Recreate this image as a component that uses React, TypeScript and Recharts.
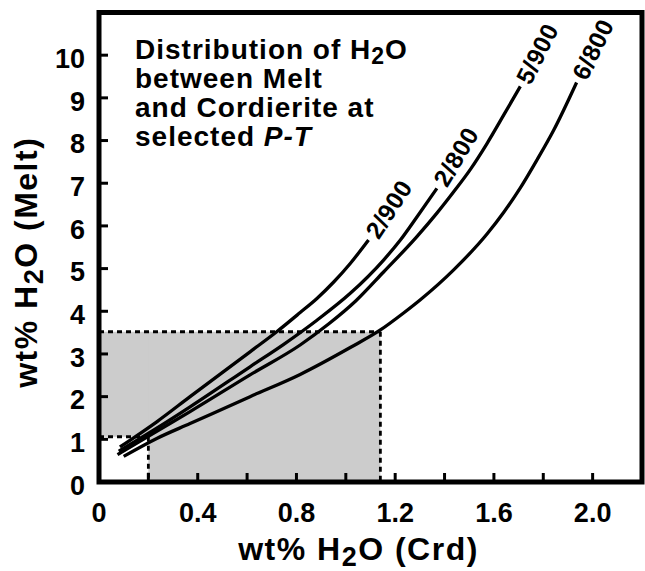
import React from 'react';
import { LineChart, Line, XAxis, YAxis, ReferenceArea, ReferenceLine, Label, LabelList } from 'recharts';

// ---- data (wt% H2O in cordierite vs wt% H2O in melt) ----
const crd2_900 = [0.085, 0.234, 0.369, 0.612, 0.72, 0.815, 0.883, 0.95, 1.018, 1.092];
const melt2_900 = [0.82, 1.41, 2.0, 3.05, 3.52, 3.97, 4.3, 4.68, 5.12, 5.67];

const crd2_800 = [0.08, 0.234, 0.369, 0.612, 0.747, 0.883, 1.018, 1.153, 1.221, 1.288, 1.369];
const melt2_800 = [0.72, 1.26, 1.76, 2.7, 3.22, 3.79, 4.42, 5.2, 5.67, 6.21, 6.88];

const crd5_900 = [0.075, 0.234, 0.369, 0.612, 0.815, 0.93, 1.04, 1.153, 1.288, 1.369, 1.437, 1.504, 1.572, 1.64, 1.707];
const melt5_900 = [0.64, 1.19, 1.65, 2.51, 3.21, 3.7, 4.24, 4.92, 5.75, 6.3, 6.8, 7.32, 7.93, 8.6, 9.27];

const crd6_800 = [0.1, 0.234, 0.369, 0.612, 0.815, 1.018, 1.137, 1.234, 1.302, 1.437, 1.572, 1.64, 1.707, 1.775, 1.842, 1.935];
const melt6_800 = [0.6, 1.02, 1.37, 2.0, 2.52, 3.15, 3.55, 3.96, 4.27, 4.97, 5.81, 6.32, 6.89, 7.55, 8.24, 9.36];

const seriesNames = ['2/900', '2/800', '5/900', '6/800'];

// shaded field
const shadeCrdMax = 1.14;
const shadeMeltMax = 3.52;
const notchCrd = 0.2;
const notchMelt = 1.06;

// axes
const xDomain = [0, 2.2];
const yDomain = [0, 11];
const xTicks = [0, 0.2, 0.4, 0.6, 0.8, 1.0, 1.2, 1.4, 1.6, 1.8, 2.0];
const xTickLabels = ['0', '', '0.4', '', '0.8', '', '1.2', '', '1.6', '', '2.0'];
const yTicks = [0, 1, 2, 3, 4, 5, 6, 7, 8, 9, 10];
const yTickLabels = ['0', '1', '2', '3', '4', '5', '6', '7', '8', '9', '10'];

const FONT = '"Liberation Sans", Arial, Helvetica, sans-serif';

const toPoints = (xs: number[], ys: number[]) => xs.map((x, i) => ({ crd: x, melt: ys[i] }));

const series = [
  { name: seriesNames[0], data: toPoints(crd2_900, melt2_900), angle: 57 },
  { name: seriesNames[1], data: toPoints(crd2_800, melt2_800), angle: 59 },
  { name: seriesNames[2], data: toPoints(crd5_900, melt5_900), angle: 63 },
  { name: seriesNames[3], data: toPoints(crd6_800, melt6_800), angle: 64 },
];

function XTick(props: any) {
  const { x, y, index } = props;
  const label = xTickLabels[index];
  if (!label) return null;
  return (
    <text x={x} y={y} dy="0.72em" textAnchor="middle" fontFamily={FONT} fontWeight="bold" fontSize={27} fill="#000">
      {label}
    </text>
  );
}

function YTick(props: any) {
  const { x, y, index } = props;
  return (
    <text x={x} y={y + 3} dy="0.36em" textAnchor="end" fontFamily={FONT} fontWeight="bold" fontSize={27} fill="#000">
      {yTickLabels[index]}
    </text>
  );
}

const makeEndLabel = (text: string, angle: number, last: number) => (props: any) => {
  const { x, y, index } = props;
  if (index !== last) return null;
  const rad = (angle * Math.PI) / 180;
  const sx = x + 5 * Math.cos(rad);
  const sy = y - 5 * Math.sin(rad);
  return (
    <text
      x={sx}
      y={sy}
      dy="0.36em"
      transform={`rotate(${-angle} ${sx} ${sy})`}
      fontFamily={FONT}
      fontWeight="bold"
      fontSize={24.5}
      letterSpacing={0.5}
      fill="#000"
    >
      {text}
    </text>
  );
};

const XTitle = (props: any) => {
  const vb = props.viewBox;
  const cx = vb.x + vb.width / 2 - 12;
  const by = vb.y + 78;
  return (
    <text x={cx} y={by} textAnchor="middle" fontFamily={FONT} fontWeight="bold" fontSize={32} letterSpacing={1.5} fill="#000">
      <tspan>wt% H</tspan>
      <tspan dy={6} fontSize={27}>2</tspan>
      <tspan dy={-6}>O (Crd)</tspan>
    </text>
  );
};

const YTitle = (props: any) => {
  const vb = props.viewBox;
  const tx = vb.x + 37;
  const ty = vb.y + vb.height / 2 + 15;
  return (
    <text
      x={tx}
      y={ty}
      textAnchor="middle"
      transform={`rotate(-90 ${tx} ${ty})`}
      fontFamily={FONT}
      fontWeight="bold"
      fontSize={32}
      letterSpacing={1.5}
      fill="#000"
    >
      <tspan>wt% H</tspan>
      <tspan dy={6} fontSize={27}>2</tspan>
      <tspan dy={-6}>O (Melt)</tspan>
    </text>
  );
};

const Annotation = (props: any) => {
  const vb = props.viewBox;
  const lx = vb.x + 36;
  const ly = vb.y + 46;
  const lh = 29.3;
  const common = { fontFamily: FONT, fontWeight: 'bold' as const, fontSize: 28, letterSpacing: 1, fill: '#000' };
  return (
    <g>
      <text x={lx} y={ly} {...common}>
        <tspan>Distribution of H</tspan>
        <tspan dy={5} fontSize={23}>2</tspan>
        <tspan dy={-5}>O</tspan>
      </text>
      <text x={lx} y={ly + lh} {...common}>between Melt</text>
      <text x={lx} y={ly + 2 * lh} {...common}>and Cordierite at</text>
      <text x={lx} y={ly + 3 * lh} {...common}>
        <tspan>selected </tspan>
        <tspan fontStyle="italic">P-T</tspan>
      </text>
    </g>
  );
};

const dash = { stroke: '#000', strokeWidth: 2.8, strokeDasharray: '5 4' };

export default function App() {
  return (
    <div style={{ position: 'absolute', left: 0, top: 0, width: 645, height: 571, background: '#fff' }}>
      <LineChart width={645} height={571} margin={{ top: 12.5, right: 3, bottom: 0, left: 0 }}>
        <XAxis
          dataKey="crd"
          type="number"
          domain={xDomain}
          ticks={xTicks}
          interval={0}
          axisLine={false}
          tickLine={{ stroke: '#000', strokeWidth: 3 }}
          tickSize={-9}
          tickMargin={30}
          tick={<XTick />}
          height={89}
          allowDataOverflow
        >
          <Label content={<XTitle />} />
        </XAxis>
        <YAxis
          type="number"
          domain={yDomain}
          ticks={yTicks}
          interval={0}
          axisLine={false}
          tickLine={{ stroke: '#000', strokeWidth: 3 }}
          tickSize={-9}
          tickMargin={23}
          tick={<YTick />}
          width={99}
          allowDataOverflow
        >
          <Label content={<YTitle />} />
        </YAxis>

        <ReferenceArea x1={0} x2={notchCrd + 0.01} y1={notchMelt} y2={shadeMeltMax} fill="#cccccc" fillOpacity={1} stroke="none" />
        <ReferenceArea x1={notchCrd} x2={shadeCrdMax} y1={0} y2={shadeMeltMax} fill="#cccccc" fillOpacity={1} stroke="none" />

        <ReferenceLine segment={[{ x: 0, y: shadeMeltMax }, { x: shadeCrdMax, y: shadeMeltMax }]} {...dash} />
        <ReferenceLine segment={[{ x: shadeCrdMax, y: shadeMeltMax }, { x: shadeCrdMax, y: 0 }]} {...dash} />
        <ReferenceLine segment={[{ x: 0, y: notchMelt }, { x: notchCrd, y: notchMelt }]} {...dash} />
        <ReferenceLine segment={[{ x: notchCrd, y: notchMelt }, { x: notchCrd, y: 0 }]} {...dash} />

        {series.map((s) => (
          <Line
            key={s.name}
            data={s.data}
            dataKey="melt"
            type="monotone"
            stroke="#000"
            strokeWidth={3.3}
            dot={false}
            activeDot={false}
            isAnimationActive={false}
          >
            <LabelList dataKey="melt" content={makeEndLabel(s.name, s.angle, s.data.length - 1)} />
          </Line>
        ))}

        <ReferenceArea
          x1={xDomain[0]}
          x2={xDomain[1]}
          y1={yDomain[0]}
          y2={yDomain[1]}
          fill="none"
          stroke="#000"
          strokeWidth={5}
          label={<Annotation />}
        />
      </LineChart>
    </div>
  );
}
